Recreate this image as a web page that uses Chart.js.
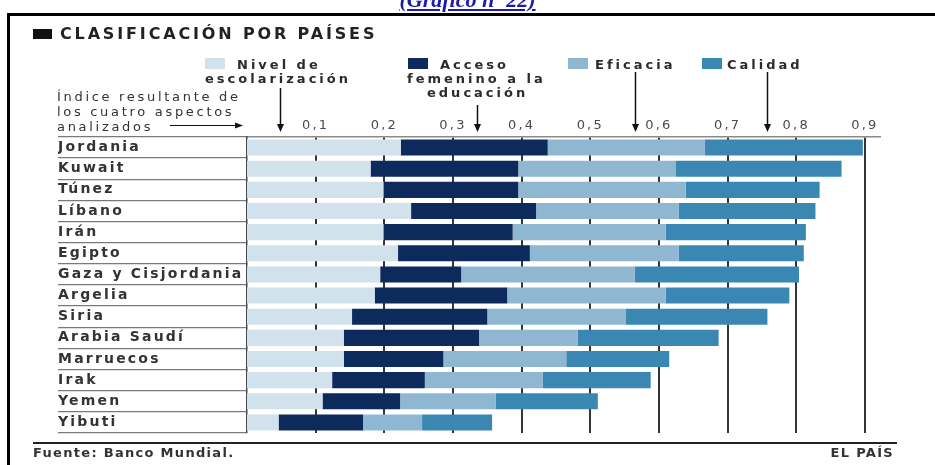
<!DOCTYPE html>
<html>
<head>
<meta charset="utf-8">
<script src="https://cdn.jsdelivr.net/npm/chart.js@4/dist/chart.umd.min.js"></script>
<style>
  html, body { margin: 0; padding: 0; background: #ffffff; }
  #wrap { position: relative; width: 935px; height: 465px; overflow: hidden; background: #fff; }
  #c { position: absolute; left: 0; top: 0; }
  .t { position: absolute; white-space: nowrap; font-family: 'DejaVu Sans', sans-serif; color: #2b2b2b; }
  .b { font-weight: bold; }
  .sq { position: absolute; }
</style>
</head>
<body>
<div id="wrap">
  <canvas id="c" width="935" height="465"></canvas>

  <div class="t" style="left:0;width:935px;text-align:center;top:-11px;font-family:'Liberation Serif',serif;font-weight:bold;font-style:italic;font-size:22px;line-height:22px;color:#1c1ca8;"><span style="text-decoration:underline;">(Gráfico nº 22)</span></div>
  <div style="position:absolute;left:7px;top:13px;width:1000px;height:1000px;border:3px solid #000;box-sizing:border-box;"></div>

  <div class="sq" style="left:33px;top:29px;width:19px;height:10px;background:#111;"></div>
  <div class="t b" id="title" style="left:60px;top:26px;font-size:16px;line-height:16px;letter-spacing:2.85px;color:#222;"></div>

  <div id="legend"></div>

  <div class="t" style="left:57px;top:89px;font-size:13px;line-height:15px;letter-spacing:2.7px;color:#333;">Índice resultante de<br>los cuatro aspectos<br>analizados</div>

  <div style="position:absolute;left:33px;top:442px;width:864px;height:2px;background:#222;"></div>
  <div class="t b" style="left:33px;top:446px;font-size:13px;line-height:13px;letter-spacing:1.3px;color:#333;" id="src"></div>
  <div class="t b" style="right:41px;top:446px;font-size:13px;line-height:13px;letter-spacing:1.3px;color:#333;">EL PAÍS</div>
</div>

<script>
// ---- data ----
const titleText = 'CLASIFICACIÓN POR PAÍSES';
const countries = ['Jordania', 'Kuwait', 'Túnez', 'Líbano', 'Irán', 'Egipto', 'Gaza y Cisjordania', 'Argelia', 'Siria', 'Arabia Saudí', 'Marruecos', 'Irak', 'Yemen', 'Yibuti'];
const seriesNames = ['Nivel de escolarización', 'Acceso femenino a la educación', 'Eficacia', 'Calidad'];
const nivel    = [0.224, 0.180, 0.199, 0.239, 0.199, 0.220, 0.194, 0.186, 0.153, 0.141, 0.141, 0.124, 0.110, 0.046];
const acceso   = [0.214, 0.215, 0.196, 0.182, 0.188, 0.192, 0.118, 0.193, 0.197, 0.197, 0.145, 0.135, 0.113, 0.123];
const eficacia = [0.229, 0.229, 0.244, 0.208, 0.223, 0.217, 0.253, 0.231, 0.202, 0.144, 0.179, 0.172, 0.139, 0.086];
const calidad  = [0.230, 0.242, 0.195, 0.199, 0.204, 0.182, 0.239, 0.180, 0.206, 0.205, 0.150, 0.157, 0.149, 0.102];
const tickValues = [0.1, 0.2, 0.3, 0.4, 0.5, 0.6, 0.7, 0.8, 0.9];
const arrowValues = [0.048, 0.335, 0.565, 0.757];
const sourceText = 'Fuente: Banco Mundial.';

// ---- styles ----
const colors = ['#d2e2ed', '#0c2a5b', '#8fb7d1', '#3a87b4'];

document.getElementById('title').textContent = titleText;
document.getElementById('src').textContent = sourceText;

// legend (HTML text)
const legendLayout = [
  { sq: [205, 58], lines: [[237, 'Nivel de'], [205, 'escolarización']] },
  { sq: [408, 58], lines: [[440, 'Acceso'], [407, 'femenino a la'], [427, 'educación']] },
  { sq: [568, 58], lines: [[595, 'Eficacia']] },
  { sq: [702, 58], lines: [[727, 'Calidad']] }
];
const legendEl = document.getElementById('legend');
legendLayout.forEach((item, i) => {
  const s = document.createElement('div');
  s.className = 'sq';
  s.style.cssText = `left:${item.sq[0]}px;top:${item.sq[1]}px;width:20px;height:11px;background:${colors[i]};`;
  legendEl.appendChild(s);
  item.lines.forEach((ln, j) => {
    const d = document.createElement('div');
    d.className = 't b';
    d.style.cssText = `left:${ln[0]}px;top:${58 + j * 14}px;font-size:13px;line-height:14px;letter-spacing:3px;color:#2b2b2b;`;
    d.textContent = ln[1];
    legendEl.appendChild(d);
  });
});

const spacingPlugin = {
  id: 'spacing',
  beforeUpdate(chart) { chart.ctx.letterSpacing = '2.2px'; },
  beforeDraw(chart) { chart.ctx.letterSpacing = '2.2px'; }
};

const arrowTops = [88, 105, 72, 72];
const arrowPlugin = {
  id: 'arrows',
  afterDraw(chart) {
    const ctx = chart.ctx;
    const xs = chart.scales.x;
    ctx.save();
    ctx.strokeStyle = '#111';
    ctx.fillStyle = '#111';
    ctx.lineWidth = 1.5;
    arrowValues.forEach((v, i) => {
      const x = Math.round(xs.getPixelForValue(v)) + 0.5;
      ctx.beginPath();
      ctx.moveTo(x, arrowTops[i]);
      ctx.lineTo(x, 126);
      ctx.stroke();
      ctx.beginPath();
      ctx.moveTo(x - 3.5, 124);
      ctx.lineTo(x + 3.5, 124);
      ctx.lineTo(x, 132);
      ctx.closePath();
      ctx.fill();
    });
    // pointer arrow after "analizados"
    ctx.beginPath();
    ctx.moveTo(170, 125.5);
    ctx.lineTo(236, 125.5);
    ctx.lineWidth = 1.2;
    ctx.stroke();
    ctx.beginPath();
    ctx.moveTo(243, 125.5);
    ctx.lineTo(235, 122.5);
    ctx.lineTo(235, 128.5);
    ctx.closePath();
    ctx.fill();
    ctx.restore();
  }
};

const seriesData = [nivel, acceso, eficacia, calidad];

new Chart(document.getElementById('c'), {
  type: 'bar',
  data: {
    labels: countries,
    datasets: seriesData.map((d, i) => ({
      label: seriesNames[i],
      data: d,
      backgroundColor: colors[i],
      borderWidth: 0,
      barPercentage: 0.76,
      categoryPercentage: 1.0
    }))
  },
  options: {
    indexAxis: 'y',
    responsive: false,
    animation: false,
    layout: { padding: { left: 58, top: 117, right: 55, bottom: 32 } },
    plugins: { legend: { display: false }, tooltip: { enabled: false } },
    scales: {
      x: {
        type: 'linear',
        position: 'top',
        stacked: true,
        min: 0,
        max: 0.922,
        z: 1,
        afterBuildTicks(scale) { scale.ticks = tickValues.map(v => ({ value: v })); },
        afterFit(scale) { scale.height = 20; },
        grid: { color: '#353535', lineWidth: 2, drawTicks: false },
        border: { display: true, color: '#8a8a8a', width: 1.5 },
        ticks: {
          padding: 4,
          color: '#4a4a4a',
          font: { family: 'DejaVu Sans', size: 13 },
          callback: v => String(v).replace('.', ',')
        }
      },
      y: {
        type: 'category',
        stacked: true,
        z: 1,
        afterFit(scale) { scale.width = 189; },
        grid: { offset: true, drawOnChartArea: false, drawTicks: true, tickLength: 189, color: '#7a7a7a', lineWidth: 1.3 },
        border: { display: true, color: '#4a4a4a', width: 1.5 },
        ticks: {
          crossAlign: 'far',
          padding: 0,
          color: '#333',
          font: { family: 'DejaVu Sans', size: 14, weight: 'bold' }
        }
      }
    }
  },
  plugins: [spacingPlugin, arrowPlugin]
});
</script>
</body>
</html>
